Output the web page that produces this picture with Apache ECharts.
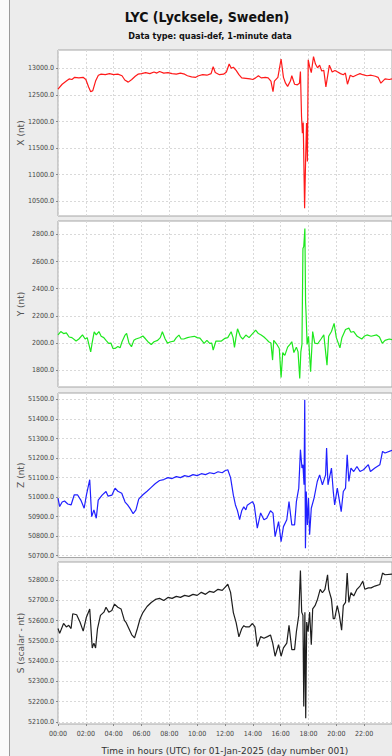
<!DOCTYPE html>
<html>
<head>
<meta charset="utf-8">
<script src="https://cdn.jsdelivr.net/npm/echarts@6/dist/echarts.min.js"></script>
<style>
  html, body { margin: 0; padding: 0; background: #ececec; }
  #chart { width: 392px; height: 756px; }
</style>
</head>
<body>
<div id="chart"></div>
<script>
// Hour ticks for the shared time axis (UTC hours on 01-Jan-2025)
const hourTicks = [0, 2, 4, 6, 8, 10, 12, 14, 16, 18, 20, 22];

// X component (nT)
const xTimes = [0.0,0.3,0.6,0.8,1.0,1.2,1.5,1.8,2.0,2.2,2.35,2.5,2.7,2.9,3.1,3.4,3.7,4.0,4.3,4.6,4.8,5.05,5.3,5.55,5.75,6.0,6.3,6.6,6.9,7.1,7.3,7.6,7.9,8.2,8.5,8.8,9.1,9.3,9.6,9.9,10.1,10.4,10.7,11.0,11.15,11.3,11.6,11.9,12.1,12.3,12.45,12.6,12.8,13.0,13.2,13.5,13.8,14.0,14.2,14.4,14.6,14.9,15.1,15.3,15.45,15.55,15.8,16.03,16.2,16.35,16.5,16.7,16.8,17.0,17.2,17.35,17.42,17.5,17.56,17.62,17.72,17.79,17.86,17.92,17.98,18.08,18.2,18.36,18.5,18.65,18.8,18.95,19.1,19.25,19.5,19.7,19.9,20.1,20.3,20.5,20.65,20.8,21.0,21.2,21.5,21.7,21.9,22.2,22.5,22.8,23.0,23.2,23.5,23.8,24.0];
const xValues = [12610,12700,12760,12800,12790,12830,12820,12830,12790,12650,12560,12580,12760,12870,12890,12880,12900,12880,12890,12860,12780,12740,12790,12850,12890,12900,12920,12900,12930,12910,12940,12910,12920,12900,12890,12910,12890,12860,12840,12830,12860,12880,12870,12900,13030,12920,12880,12890,12930,13080,13000,13020,12960,12880,12820,12810,12800,12790,12820,12860,12820,12830,12820,12760,12560,12760,12830,13175,12830,12720,12660,12760,12860,12700,12690,12720,12940,12090,11780,11980,10370,11250,11970,11250,13160,13030,12920,13220,13080,13010,13060,12950,12960,12650,13060,12930,12960,12930,12900,12880,12910,12700,12870,12840,12880,12900,12880,12860,12870,12850,12830,12720,12800,12790,12800];

// Y component (nT)
const yTimes = [0.0,0.2,0.4,0.6,0.8,1.0,1.3,1.5,1.76,1.95,2.1,2.35,2.45,2.6,2.75,2.94,3.1,3.29,3.45,3.64,3.8,3.95,4.1,4.3,4.46,4.6,4.82,4.93,5.1,5.28,5.45,5.6,5.87,6.1,6.3,6.46,6.7,6.9,7.16,7.35,7.5,7.7,7.87,8.1,8.33,8.5,8.69,8.85,9.04,9.3,9.5,9.8,10.0,10.2,10.5,10.7,10.9,11.05,11.15,11.35,11.55,11.74,12.0,12.2,12.44,12.58,12.68,12.8,12.9,13.1,13.27,13.5,13.73,13.9,14.08,14.2,14.4,14.6,14.8,15.0,15.14,15.3,15.42,15.5,15.73,15.9,16.03,16.15,16.3,16.5,16.67,16.8,16.95,17.13,17.25,17.37,17.45,17.53,17.6,17.66,17.74,17.79,17.83,17.9,18.0,18.15,18.3,18.45,18.66,18.9,19.1,19.33,19.45,19.65,19.84,20.0,20.26,20.4,20.66,20.9,21.05,21.25,21.5,21.83,22.0,22.2,22.5,22.9,23.1,23.3,23.5,23.8,24.0];
const yValues = [2060,2085,2070,2075,2045,2040,2015,2030,2060,2030,2040,1936,2000,2083,2060,2085,2050,2040,2020,1998,2000,1960,1961,1975,1965,2010,2059,2071,2000,1973,2020,2030,2039,2052,2030,2010,1990,2010,2020,2040,2083,2030,2000,2010,2015,2040,2059,2030,2030,2040,2045,2050,2040,2036,1998,2020,1998,2000,1949,2015,2015,2015,2035,2040,2083,2040,1968,2050,2105,2050,2030,2059,2040,2060,2080,2096,2070,2060,2045,2025,2010,2000,1875,2020,1990,1960,1748,1930,1910,1970,1990,2010,1930,1970,1935,1740,1935,1990,2696,2710,2843,2300,2206,1990,2050,1789,2085,2000,1995,2030,2060,1838,2050,2085,2145,2040,1965,2040,2100,2110,2080,2085,2050,2030,2050,2060,2050,2060,2045,1998,2020,2030,2025];

// Z component (nT)
const zTimes = [0.0,0.12,0.3,0.47,0.7,0.94,1.17,1.4,1.64,1.88,2.04,2.28,2.42,2.58,2.75,2.89,3.17,3.45,3.6,3.87,4.1,4.3,4.58,4.82,5.0,5.2,5.4,5.6,5.8,6.1,6.4,6.7,7.0,7.3,7.6,7.9,8.2,8.5,8.8,9.1,9.4,9.7,10.0,10.3,10.6,10.9,11.2,11.5,11.8,12.0,12.2,12.4,12.6,12.75,12.9,13.05,13.2,13.35,13.5,13.6,13.97,14.1,14.32,14.56,14.8,15.0,15.27,15.45,15.6,15.85,16.03,16.2,16.44,16.6,16.8,17.0,17.13,17.3,17.42,17.53,17.6,17.68,17.73,17.78,17.84,17.92,18.0,18.08,18.2,18.4,18.63,18.8,19.0,19.23,19.3,19.4,19.65,19.78,19.88,20.07,20.35,20.5,20.66,20.78,20.9,21.05,21.25,21.48,21.7,21.95,22.3,22.45,22.77,23.13,23.32,23.5,24.0];
const zValues = [50995,50952,50975,50980,50965,50960,51012,51012,50985,50943,51010,51089,50900,50935,50892,50985,51010,51029,51005,51010,51046,51030,51020,50975,50960,50940,50915,50935,50990,51012,51030,51050,51070,51085,51090,51100,51095,51105,51100,51110,51105,51115,51110,51120,51115,51125,51120,51130,51125,51135,51140,51100,51010,50960,50930,50885,50930,50950,50935,50959,50977,50960,50841,50919,50884,50892,50930,50918,50798,50875,50772,50849,50884,50977,50858,50858,50977,51046,51243,51149,51166,51063,51499,50738,51029,50858,50995,50807,50943,50995,51080,51114,51063,51114,51251,51063,51149,51029,50960,51046,50926,51029,51046,51217,51080,51149,51131,51157,51131,51140,51166,51131,51149,51166,51234,51226,51240];

// Scalar field S (nT)
const sTimes = [0.0,0.12,0.4,0.6,0.77,0.94,1.06,1.34,1.58,1.81,2.04,2.28,2.46,2.58,2.7,2.84,3.05,3.3,3.45,3.65,3.87,4.06,4.3,4.53,4.77,4.9,5.1,5.3,5.5,5.7,5.9,6.1,6.4,6.7,7.0,7.3,7.6,7.9,8.2,8.5,8.8,9.1,9.4,9.7,10.0,10.3,10.6,10.9,11.2,11.5,11.8,12.0,12.2,12.4,12.6,12.8,13.0,13.2,13.35,13.5,13.75,13.97,14.15,14.32,14.56,14.8,15.05,15.27,15.43,15.6,15.85,16.03,16.2,16.44,16.6,16.8,17.0,17.13,17.3,17.42,17.51,17.6,17.66,17.74,17.8,17.87,17.97,18.08,18.2,18.3,18.47,18.65,18.84,19.0,19.18,19.37,19.45,19.65,19.78,19.88,20.07,20.2,20.38,20.5,20.66,20.78,20.9,21.05,21.25,21.48,21.7,21.9,22.05,22.3,22.5,22.77,23.13,23.32,23.5,24.0];
const sValues = [52561,52537,52586,52569,52577,52561,52634,52629,52593,52548,52617,52658,52465,52489,52465,52561,52626,52642,52666,52642,52650,52682,52666,52658,52601,52590,52560,52530,52515,52560,52610,52640,52670,52690,52705,52710,52700,52715,52710,52720,52715,52725,52720,52730,52725,52740,52730,52745,52740,52755,52750,52765,52780,52740,52640,52590,52520,52560,52575,52569,52569,52586,52569,52472,52521,52513,52521,52529,52489,52424,52481,52424,52465,52489,52577,52457,52457,52545,52626,52848,52642,52626,52175,52642,52118,52593,52545,52642,52481,52658,52674,52706,52755,52738,52755,52827,52755,52706,52610,52610,52674,52634,52553,52674,52690,52835,52690,52738,52722,52755,52771,52795,52755,52762,52762,52771,52779,52835,52827,52830];

// Tick values for each panel's value axis
const xTicks = [10500, 11000, 11500, 12000, 12500, 13000];
const yTicks = [1800, 2000, 2200, 2400, 2600, 2800];
const zTicks = [50700, 50800, 50900, 51000, 51100, 51200, 51300, 51400, 51500];
const sTicks = [52100, 52200, 52300, 52400, 52500, 52600, 52700, 52800];

const panels = [
  { name: 'X (nt)', times: xTimes, values: xValues, ticks: xTicks, color: '#ff1a1a', min: 10224, max: 13344, top: 50, height: 166 },
  { name: 'Y (nt)', times: yTimes, values: yValues, ticks: yTicks, color: '#1ee81e', min: 1677, max: 2898, top: 221, height: 166 },
  { name: 'Z (nt)', times: zTimes, values: zValues, ticks: zTicks, color: '#2020ff', min: 50691, max: 51533, top: 393, height: 164.5 },
  { name: 'S (scalar - nt)', times: sTimes, values: sValues, ticks: sTicks, color: '#1e1e1e', min: 52089, max: 52890, top: 562, height: 166 }
];

const tickFont = { fontFamily: '"DejaVu Sans Condensed", "DejaVu Sans"', fontSize: 7, color: '#444' };
const gridLine = { show: true, lineStyle: { color: '#d9d9d9', type: [2, 2], width: 1 } };

const grids = [], xAxes = [], yAxes = [], series = [];
panels.forEach((p, i) => {
  const last = i === panels.length - 1;
  grids.push({
    left: 58, width: 341, top: p.top, height: p.height,
    show: true, backgroundColor: '#ffffff', borderColor: '#a6a6a6', borderWidth: 1
  });
  xAxes.push({
    type: 'value', gridIndex: i, min: 0, max: 24, interval: 2,
    axisLine: { show: false },
    axisTick: { show: last, length: 2, lineStyle: { color: '#888' } },
    axisLabel: {
      show: last, ...tickFont, margin: 6, showMaxLabel: false,
      formatter: v => String(v).padStart(2, '0') + ':00'
    },
    splitLine: gridLine,
    name: last ? 'Time in hours (UTC) for 01-Jan-2025 (day number 001)' : '',
    nameLocation: 'middle', nameGap: 22, nameMoveOverlap: false,
    nameTextStyle: { fontFamily: 'DejaVu Sans', fontSize: 9, color: '#333' }
  });
  yAxes.push({
    type: 'value', gridIndex: i, min: p.min, max: p.max,
    axisLine: { show: false },
    axisTick: { show: true, length: 2, lineStyle: { color: '#888' }, customValues: p.ticks },
    axisLabel: { ...tickFont, margin: 4, customValues: p.ticks, formatter: v => v.toFixed(1) },
    splitLine: gridLine,
    name: p.name, nameLocation: 'middle', nameRotate: 90, nameGap: 33, nameMoveOverlap: false,
    nameTextStyle: { fontFamily: 'DejaVu Sans', fontSize: 9, color: '#555' }
  });
  series.push({
    type: 'line', xAxisIndex: i, yAxisIndex: i,
    data: p.times.map((t, k) => [t, p.values[k]]),
    showSymbol: false, symbol: 'none',
    lineStyle: { color: p.color, width: 1.2 },
    itemStyle: { color: p.color },
    animation: false
  });
});

const chart = echarts.init(document.getElementById('chart'), null, { renderer: 'svg' });
chart.setOption({
  backgroundColor: '#ececec',
  animation: false,
  graphic: [
    { type: 'rect', shape: { x: 0, y: 0, width: 9, height: 756 }, style: { fill: '#fafafa' }, silent: true },
    { type: 'line', shape: { x1: 9.5, y1: 0, x2: 9.5, y2: 756 }, style: { stroke: '#9a9a9a', lineWidth: 1 }, silent: true },
    { type: 'text', x: 207, y: 10, style: { text: 'LYC (Lycksele, Sweden)', fontFamily: '"DejaVu Sans Condensed", "DejaVu Sans"', fontWeight: 'bold', fontSize: 14, fill: '#111', textAlign: 'center' } },
    { type: 'text', x: 210, y: 31, style: { text: 'Data type: quasi-def, 1-minute data', fontFamily: '"DejaVu Sans Condensed", "DejaVu Sans"', fontWeight: 'bold', fontSize: 9, fill: '#111', textAlign: 'center' } }
  ],
  grid: grids,
  xAxis: xAxes,
  yAxis: yAxes,
  series: series
});
</script>
</body>
</html>
